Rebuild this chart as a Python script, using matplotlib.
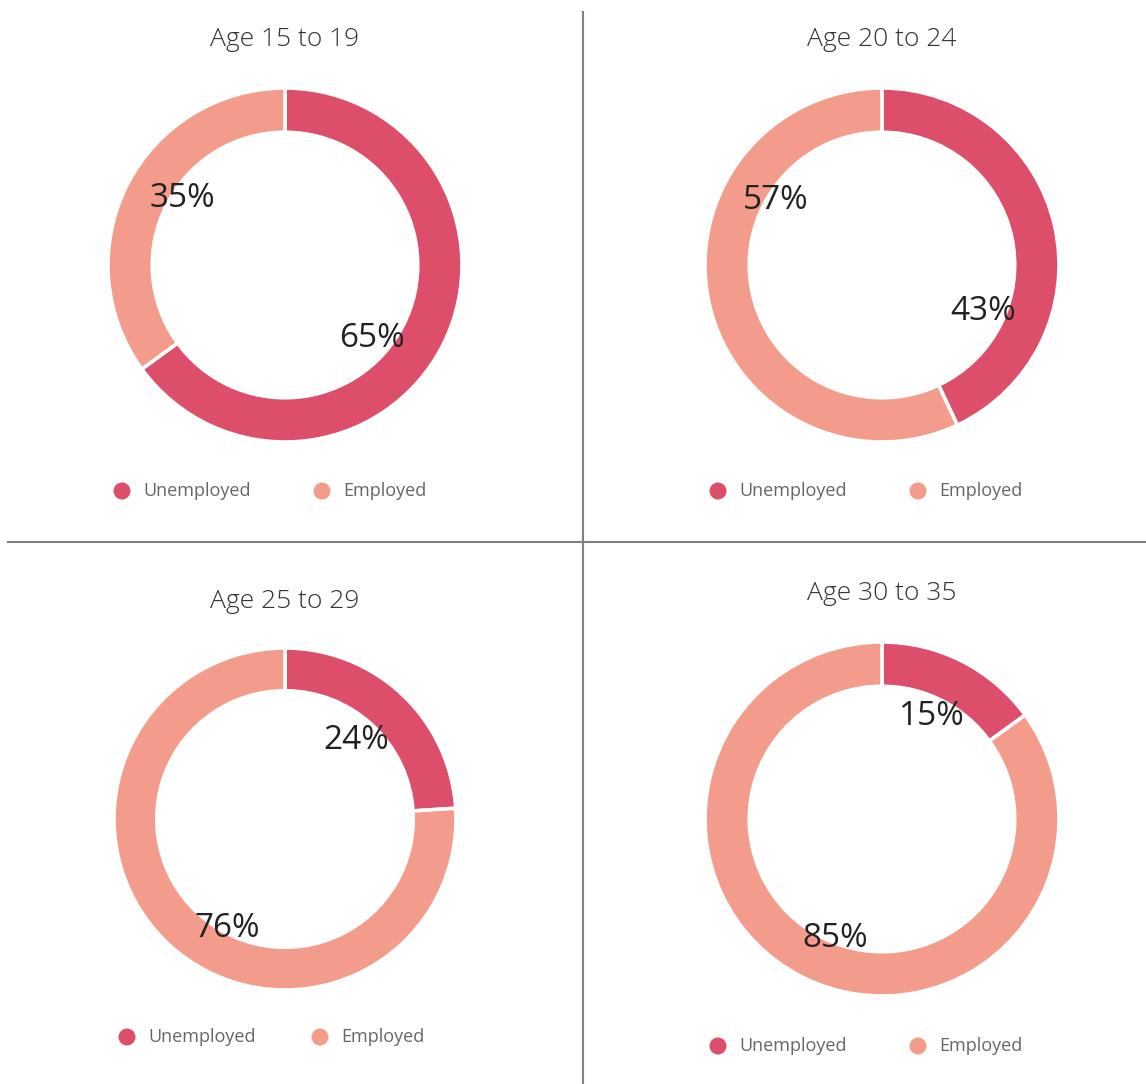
import matplotlib.pyplot as plt
import numpy as np

groups = ['Age 15 to 19', 'Age 20 to 24', 'Age 25 to 29', 'Age 30 to 35']
series = ['Unemployed', 'Employed']
unemployed = [65, 43, 24, 15]
employed = [35, 57, 76, 85]

colors = ['#dc4e69', '#f49c8c']
line_color = '#808080'
title_color = '#333333'
label_color = '#222222'
legend_text_color = '#666666'

W, H = 1146, 1084

# panel layout in pixels (x, y from the top-left)
centers = [(285, 265), (882, 265), (285, 819), (882, 819)]
radii = [177, 177, 171, 177]
title_y = [40, 40, 602, 594]
legend_y = [491, 491, 1037, 1046]
legend_x = [(122, 322), (718, 918), (127, 320), (718, 918)]
# nudges of the value labels from the wedge mid angle: (degrees, radius fraction)
label_nudge = [[(12, 0.63), (7, 0.70)],
               [(36, 0.62), (45, 0.71)],
               [(-2, 0.63), (-15, 0.71)],
               [(-2, 0.66), (-5, 0.71)]]

plt.rcParams['font.family'] = ['Open Sans', 'DejaVu Sans']

fig = plt.figure(figsize=(W / 100, H / 100), dpi=100)
over = fig.add_axes([0, 0, 1, 1])
over.set_xlim(0, W)
over.set_ylim(H, 0)
over.axis('off')
over.set_zorder(5)

# divider lines
over.plot([583, 583], [12, H], color=line_color, linewidth=1.5)
over.plot([8, W], [542, 542], color=line_color, linewidth=1.5)

for i, name in enumerate(groups):
    cx, cy = centers[i]
    r = radii[i]
    ax = fig.add_axes([(cx - r) / W, (H - cy - r) / H, 2 * r / W, 2 * r / H])
    vals = [unemployed[i], employed[i]]
    ax.pie(vals, colors=colors, startangle=90, counterclock=False, radius=1.0,
           wedgeprops=dict(width=0.25, edgecolor='white', linewidth=2.6))
    ax.set_xlim(-1, 1)
    ax.set_ylim(-1, 1)
    ax.set_aspect('equal')
    ax.axis('off')

    # value labels
    start = 0
    for j, v in enumerate(vals):
        mid = start + v / 100 * 360 / 2
        start += v / 100 * 360
        da, rf = label_nudge[i][j]
        ang = np.deg2rad(mid + da)
        over.text(cx + rf * r * np.sin(ang), cy - rf * r * np.cos(ang) + 3, f'{v}%',
                  ha='center', va='center', fontsize=24, color=label_color)

    over.text(cx, title_y[i], name, ha='center', va='center', fontsize=19,
              color=title_color, fontweight='light')

    for k, s in enumerate(series):
        mx = legend_x[i][k]
        over.scatter([mx], [legend_y[i]], s=150, color=colors[k], edgecolors='none')
        over.text(mx + 21, legend_y[i], s, ha='left', va='center', fontsize=13,
                  color=legend_text_color)

fig.savefig('out.png', dpi=100)
